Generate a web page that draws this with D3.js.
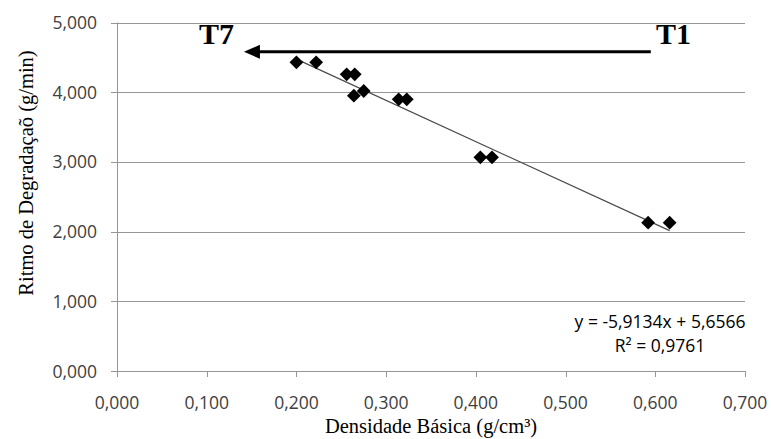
<!DOCTYPE html>
<html lang="pt">
<head>
    <meta charset="UTF-8">
    <title>Ritmo de Degradação vs Densidade Básica</title>
    <script src="https://d3js.org/d3.v7.min.js"></script>
    <style>
        body { margin: 0; background: white; }
        .tick-label { font-family: "Open Sans", "Liberation Sans", sans-serif; font-size: 17.5px; fill: #404040; }
        .axis-title { font-family: "Liberation Serif", "DejaVu Serif", serif; font-size: 20.5px; fill: #000; }
        .tag { font-family: "Liberation Serif", serif; font-size: 30px; font-weight: bold; fill: #000; }
        .eq { font-family: "Open Sans", "Liberation Sans", sans-serif; font-size: 17.5px; fill: #000; }
    </style>
</head>
<body>
<div id="chart"></div>
<script>
    var w = 771;
    var h = 439;

    // dados
    var densidade = [0.200, 0.222, 0.256, 0.265, 0.264, 0.275, 0.314, 0.323, 0.405, 0.418, 0.592, 0.616];
    var ritmo     = [4.429, 4.429, 4.257, 4.257, 3.950, 4.017, 3.898, 3.898, 3.066, 3.066, 2.128, 2.128];

    var xTicks = [0, 0.1, 0.2, 0.3, 0.4, 0.5, 0.6, 0.7];
    var yTicks = [0, 1, 2, 3, 4, 5];

    var slope = -5.9134;
    var intercept = 5.6566;
    var equation = ["y = -5,9134x + 5,6566", "R² = 0,9761"];

    var margin = {left: 117, right: 26, top: 22.5, bottom: 68};

    var xScale = d3.scaleLinear()
                   .domain([0, 0.7])
                   .range([margin.left, w - margin.right]);

    var yScale = d3.scaleLinear()
                   .domain([0, 5])
                   .range([h - margin.bottom, margin.top]);

    var ptBR = d3.formatLocale({decimal: ",", thousands: ".", grouping: [3], currency: ["", ""]});
    var fmt = ptBR.format(".3f");

    var svg = d3.select("#chart")
                .append("svg")
                .attr("width", w)
                .attr("height", h);

    // grelha horizontal
    svg.selectAll("line.grid")
       .data(yTicks)
       .enter()
       .append("line")
       .attr("class", "grid")
       .attr("x1", xScale(0) - 6)
       .attr("x2", xScale(0.7))
       .attr("y1", function(d) { return Math.round(yScale(d)) + 0.5; })
       .attr("y2", function(d) { return Math.round(yScale(d)) + 0.5; })
       .attr("stroke", "#969696")
       .attr("stroke-width", 1);

    // eixo vertical
    svg.append("line")
       .attr("x1", Math.round(xScale(0)) + 0.5)
       .attr("x2", Math.round(xScale(0)) + 0.5)
       .attr("y1", yScale(5))
       .attr("y2", yScale(0) + 6)
       .attr("stroke", "#969696");

    // marcas do eixo x
    svg.selectAll("line.xtick")
       .data(xTicks)
       .enter()
       .append("line")
       .attr("class", "xtick")
       .attr("x1", function(d) { return Math.round(xScale(d)) + 0.5; })
       .attr("x2", function(d) { return Math.round(xScale(d)) + 0.5; })
       .attr("y1", yScale(0))
       .attr("y2", yScale(0) + 6)
       .attr("stroke", "#969696");

    svg.selectAll("text.ylab")
       .data(yTicks)
       .enter()
       .append("text")
       .attr("class", "tick-label")
       .attr("x", xScale(0) - 20)
       .attr("y", function(d) { return yScale(d) + 6.5; })
       .attr("text-anchor", "end")
       .text(function(d) { return fmt(d); });

    svg.selectAll("text.xlab")
       .data(xTicks)
       .enter()
       .append("text")
       .attr("class", "tick-label")
       .attr("x", function(d) { return xScale(d); })
       .attr("y", yScale(0) + 38)
       .attr("text-anchor", "middle")
       .text(function(d) { return fmt(d); });

    // linha de tendencia
    var xMin = d3.min(densidade), xMax = d3.max(densidade);
    svg.append("line")
       .attr("x1", xScale(xMin))
       .attr("y1", yScale(slope * xMin + intercept))
       .attr("x2", xScale(xMax))
       .attr("y2", yScale(slope * xMax + intercept))
       .attr("stroke", "#4a4a4a")
       .attr("stroke-width", 1.2);

    // pontos (losangos)
    var diamond = d3.symbol().type(d3.symbolSquare).size(95);
    svg.selectAll("path.pt")
       .data(densidade)
       .enter()
       .append("path")
       .attr("class", "pt")
       .attr("d", diamond)
       .attr("transform", function(d, i) {
           return "translate(" + xScale(d) + "," + yScale(ritmo[i]) + ") rotate(45)";
       })
       .attr("fill", "#000");

    // seta T1 -> T7
    var arrowY = yScale(4.58);
    var arrowFrom = xScale(0.595), arrowTo = xScale(0.1415);
    svg.append("line")
       .attr("x1", arrowFrom)
       .attr("x2", arrowTo + 14)
       .attr("y1", arrowY)
       .attr("y2", arrowY)
       .attr("stroke", "#000")
       .attr("stroke-width", 3);
    svg.append("path")
       .attr("d", "M" + arrowTo + "," + arrowY + " L" + (arrowTo + 16) + "," + (arrowY - 7) + " L" + (arrowTo + 16) + "," + (arrowY + 7) + " Z")
       .attr("fill", "#000");

    svg.append("text").attr("class", "tag").attr("x", 199).attr("y", 43.5).text("T7");
    svg.append("text").attr("class", "tag").attr("x", 656).attr("y", 43.5).text("T1");

    // equacao
    svg.selectAll("text.eq")
       .data(equation)
       .enter()
       .append("text")
       .attr("class", "eq")
       .attr("x", 660)
       .attr("y", function(d, i) { return 328 + i * 24; })
       .attr("text-anchor", "middle")
       .text(function(d) { return d; });

    // titulos dos eixos
    svg.append("text")
       .attr("class", "axis-title")
       .attr("x", xScale(0.35))
       .attr("y", 433)
       .attr("text-anchor", "middle")
       .text("Densidade Básica (g/cm³)");

    svg.append("text")
       .attr("class", "axis-title")
       .attr("transform", "translate(33," + 173 + ") rotate(-90)")
       .attr("text-anchor", "middle")
       .text("Ritmo de Degradaçaõ (g/min)");
</script>
</body>
</html>
